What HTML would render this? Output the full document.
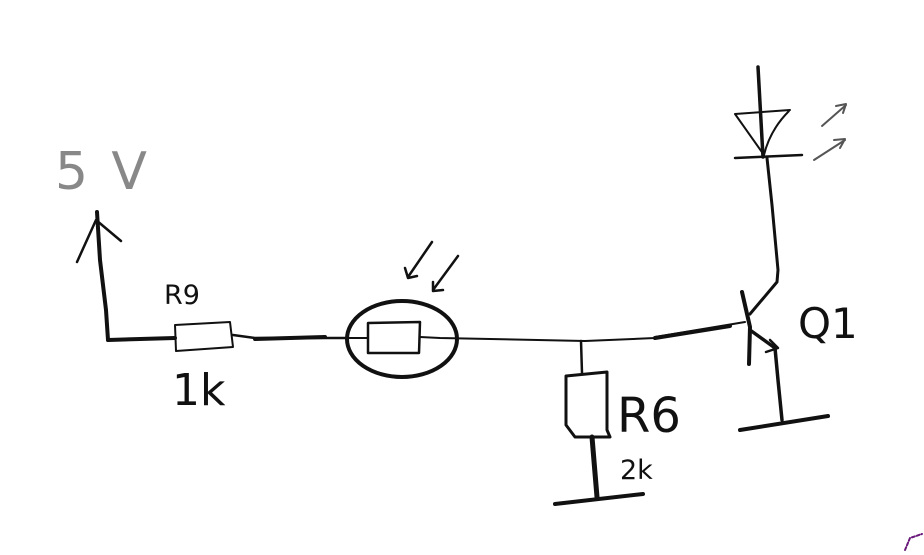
<!DOCTYPE html>
<html><head><style>html,body{margin:0;padding:0;background:#fff;width:924px;height:555px;overflow:hidden}</style></head>
<body>
<svg width="924" height="555" viewBox="0 0 924 555" xmlns="http://www.w3.org/2000/svg">
<g fill="none" stroke="#111" stroke-linecap="round" stroke-linejoin="round">
<path d="M97,212 L100,260 L106,310 L108,340" stroke-width="4"/>
<path d="M77,262 L96,220 L121,241" stroke-width="2.5"/>
<path d="M108,340 L175,338" stroke-width="4"/>
<path d="M175,325 L230,322 L233,347 L176,351 Z" stroke-width="2"/>
<path d="M233,335 L255,338 L345,338" stroke-width="2.5"/>
<path d="M255,339 L325,337" stroke-width="4"/>
<ellipse cx="402" cy="339" rx="55" ry="38" stroke-width="4"/>
<path d="M368,323 L420,322 L419,353 L368,353 Z" stroke-width="2.5"/>
<path d="M345,338 L368,338 M420,337 L440,338 L585,341" stroke-width="2"/>
<path d="M432,242 L408,277 M405,268 L408,278 L417,276" stroke-width="2.5"/>
<path d="M458,256 L433,290 M433,282 L433,291 L443,290" stroke-width="2.5"/>
<path d="M585,341 L655,338 M655,337 L745,322" stroke-width="2"/>
<path d="M655,338 L730,326" stroke-width="4"/>
<path d="M581,341 L582,373" stroke-width="2.5"/>
<path d="M566,376 L607,372 L607,430 L610,437 L575,437 L566,425 Z" stroke-width="3"/>
<path d="M592,437 L597,497" stroke-width="5"/>
<path d="M555,504 L643,494" stroke-width="4"/>
<path d="M742,292 L750,327 L749,364" stroke-width="4"/>
<path d="M750,314 L777,282 L778,270 L772,205 L767,158" stroke-width="3"/>
<path d="M750,330 L775,348 L778,380 L782,420" stroke-width="3.5"/>
<path d="M770,340 L778,348 L766,352" stroke-width="2.5"/>
<path d="M740,430 L828,416" stroke-width="4"/>
<path d="M758,67 L763,157" stroke-width="3.5"/>
<path d="M735,114 L790,110 M735,114 L764,155 M789,111 Q770,130 764,155" stroke-width="2"/>
<path d="M735,158 L802,155" stroke-width="2.5"/>
<path d="M822,126 L846,105 M836,106 L846,104 L843,113" stroke="#555" stroke-width="2"/>
<path d="M814,160 L845,140 M834,140 L845,139 L840,148" stroke="#555" stroke-width="2"/>
<path d="M905,550 L910,538 L922,534" stroke="#6a1a7a" stroke-width="2" stroke-dasharray="3,2"/>
</g>
<g font-family="'DejaVu Sans','Liberation Sans',sans-serif" fill="#111">
<text x="55" y="189" font-size="52" fill="#888" textLength="92" lengthAdjust="spacing">5V</text>
<text x="164" y="304" font-size="27">R9</text>
<text x="172" y="405" font-size="44">1k</text>
<text x="798" y="338" font-size="42">Q1</text>
<text x="617" y="432" font-size="48">R6</text>
<text x="620" y="479" font-size="27">2k</text>
</g>
</svg>
</body></html>
